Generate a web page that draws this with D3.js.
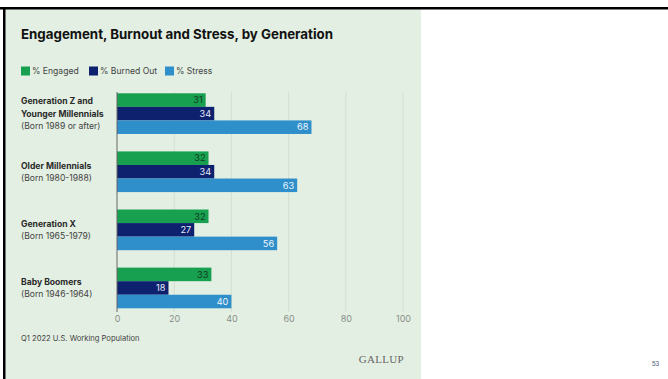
<!DOCTYPE html>
<html><head><meta charset="utf-8">
<script src="https://cdn.jsdelivr.net/npm/d3@7"></script>
<style>
html,body{margin:0;padding:0;background:#fff;}
svg{display:block;}
</style></head>
<body>
<svg id="chart" width="668" height="379"></svg>
<script>
const categories = ["genz", "oldmill", "genx", "boomers"];
const categoryNames = [
  ["Generation Z and", "Younger Millennials"],
  ["Older Millennials"],
  ["Generation X"],
  ["Baby Boomers"]
];
const categoryBorn = ["(Born 1989 or after)", "(Born 1980-1988)", "(Born 1965-1979)", "(Born 1946-1964)"];
const seriesNames = ["% Engaged", "% Burned Out", "% Stress"];
const engaged = [31, 32, 32, 33];
const burnedOut = [34, 34, 27, 18];
const stress = [68, 63, 56, 40];
const tickValues = [0, 20, 40, 60, 80, 100];
const seriesColors = ["#17a04f", "#0d216f", "#2f8fcb"];
const labelColors = ["#123a1f", "#e8ecf8", "#eef6fc"];

const series = [engaged, burnedOut, stress];
const svg = d3.select("#chart");
const font = "Inter, 'Liberation Sans', Arial, sans-serif";

// frame
svg.append("rect").attr("x", 5).attr("y", 9).attr("width", 416).attr("height", 370).attr("fill", "#e3efe2");
svg.append("rect").attr("x", 0).attr("y", 7).attr("width", 668).attr("height", 2.5).attr("fill", "#000");
svg.append("rect").attr("x", 3).attr("y", 7).attr("width", 2.5).attr("height", 372).attr("fill", "#000");

// title
svg.append("text").attr("x", 21).attr("y", 39).attr("font-family", font).attr("font-weight", 700)
  .attr("font-size", 13.3).attr("fill", "#111").text("Engagement, Burnout and Stress, by Generation");

// legend
const legendX = [21, 89, 165];
seriesNames.forEach((n, i) => {
  svg.append("rect").attr("x", legendX[i]).attr("y", 66.5).attr("width", 9).attr("height", 9).attr("fill", seriesColors[i]);
  svg.append("text").attr("x", legendX[i] + 11).attr("y", 74).attr("font-family", font)
    .attr("font-size", 8.6).attr("fill", "#444").text(n);
});

// scales
const x = d3.scaleLinear().domain([0, 100]).range([117, 403]);
const y = d3.scaleBand().domain(categories).range([93.3, 308.3]).paddingInner(0.3).paddingOuter(0);
const ySub = d3.scaleBand().domain([0, 1, 2]).range([0, y.bandwidth()]).padding(0);

// gridlines
const grid = svg.append("g");
grid.selectAll("line").data(tickValues.slice(1)).join("line")
  .attr("x1", d => x(d)).attr("x2", d => x(d)).attr("y1", 92).attr("y2", 312)
  .attr("stroke", "#d2dfd0").attr("stroke-width", 1);

// axis
const axis = d3.axisBottom(x).tickValues(tickValues).tickSize(0).tickPadding(0);
const ax = svg.append("g").attr("transform", "translate(0,322)").call(axis);
ax.select(".domain").remove();
ax.selectAll("text").attr("font-family", font).attr("font-size", 9).attr("fill", "#8a8f8a").attr("dy", 0);

// bars
categories.forEach((c, ci) => {
  const g = svg.append("g").attr("transform", `translate(0,${y(c)})`);
  series.forEach((s, si) => {
    g.append("rect").attr("x", x(0)).attr("y", ySub(si)).attr("width", x(s[ci]) - x(0))
      .attr("height", ySub.bandwidth()).attr("fill", seriesColors[si]);
    g.append("text").attr("x", x(s[ci]) - 3).attr("y", ySub(si) + ySub.bandwidth() / 2 + 3.3)
      .attr("text-anchor", "end").attr("font-family", font).attr("font-size", 9.2)
      .attr("fill", labelColors[si]).text(s[ci]);
  });
  // category labels
  const lines = categoryNames[ci].map(t => ({t, b: true})).concat([{t: categoryBorn[ci], b: false}]);
  const center = y(c) + y.bandwidth() / 2;
  const lh = 12.4;
  const start = center - (lines.length - 1) * lh / 2 + 3;
  lines.forEach((l, li) => {
    svg.append("text").attr("x", 21).attr("y", start + li * lh).attr("font-family", font)
      .attr("font-size", 8.6).attr("font-weight", l.b ? 700 : 400)
      .attr("fill", l.b ? "#2a2a2a" : "#444").text(l.t);
  });
});

// axis line
svg.append("line").attr("x1", x(0)).attr("x2", x(0)).attr("y1", 92).attr("y2", 312)
  .attr("stroke", "#666").attr("stroke-width", 1);

// footnote
svg.append("text").attr("x", 21).attr("y", 341).attr("font-family", font).attr("font-size", 7.6)
  .attr("fill", "#444").text("Q1 2022 U.S. Working Population");
svg.append("text").attr("x", 404).attr("y", 363).attr("text-anchor", "end")
  .attr("font-family", "'Liberation Serif', 'DejaVu Serif', serif").attr("font-size", 11)
  .attr("fill", "#666").attr("letter-spacing", 0.3).text("GALLUP");
svg.append("text").attr("x", 652).attr("y", 366).attr("font-family", "'Liberation Sans', Arial, sans-serif")
  .attr("font-size", 6.5).attr("fill", "#4a5a7a").text("53");
</script>
</body></html>
